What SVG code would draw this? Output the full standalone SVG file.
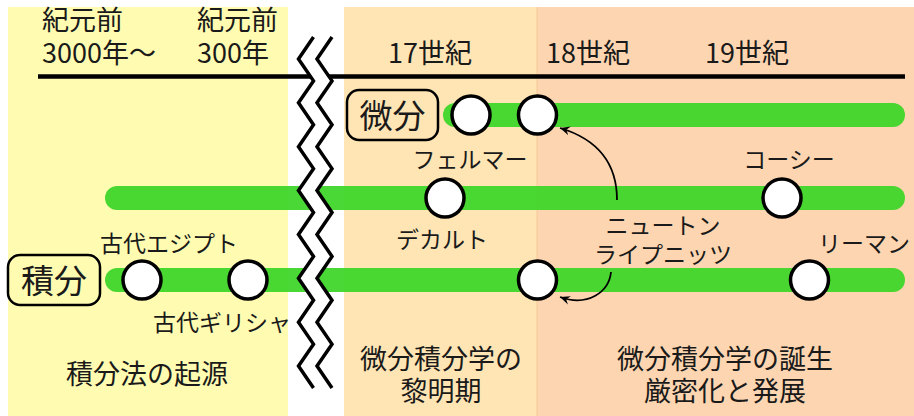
<svg xmlns="http://www.w3.org/2000/svg" width="914" height="416" viewBox="0 0 914 416">
<style>
text{font-family:"Noto Sans CJK JP","Noto Sans",sans-serif;fill:#1a1a1a}
.t{font-size:27px}
.n{font-size:23px}
.b{font-size:33px}
.m{text-anchor:middle}
.bar{stroke:#3fd62a;stroke-opacity:0.95;stroke-width:24;stroke-linecap:round}
.node{fill:#fff;stroke:#000;stroke-width:3.5}
.zz{fill:none;stroke:#000;stroke-width:3.5;stroke-linejoin:miter}
.arr{fill:none;stroke:#000;stroke-width:1.8}
.box{fill:none;stroke:#000;stroke-width:2.5}
</style>
<defs>
<marker id="ah" viewBox="-10 -6 12 12" refX="0" refY="0" markerWidth="12" markerHeight="12" markerUnits="userSpaceOnUse" orient="auto">
<path d="M0,0 L-10,-4.5 L-6.5,0 L-10,4.5 Z" fill="#000"/>
</marker>
</defs>
<g id="background">
<rect x="8" y="7" width="280" height="409" fill="#FFFCB2"/>
<rect x="344" y="7" width="193" height="409" fill="#FFE5B4"/>
<rect x="537" y="7" width="377" height="409" fill="#FDD6B1"/>
<line x1="537" y1="7" x2="537" y2="416" stroke="#F7C898" stroke-width="1"/>
</g>
<g id="timeline">
<line x1="38" y1="76.5" x2="905" y2="76.5" stroke="#000" stroke-width="4.5"/>
<text class="t" x="42" y="30">紀元前</text>
<text class="t" x="42" y="63">3000年～</text>
<text class="t" x="197" y="30">紀元前</text>
<text class="t" x="197" y="63">300年</text>
<text class="t" x="388" y="63">17世紀</text>
<text class="t" x="546" y="63">18世紀</text>
<text class="t" x="705" y="63">19世紀</text>
</g>
<g id="bars">
<line class="bar" x1="455" y1="115" x2="893" y2="115"/>
<line class="bar" x1="117" y1="198" x2="893" y2="198"/>
<line class="bar" x1="117" y1="280" x2="893" y2="280"/>
</g>
<g id="break">
<polygon fill="#fff" points="313.5,37 298.5,58.94 313.5,80.88 298.5,102.81 313.5,124.75 298.5,146.69 313.5,168.63 298.5,190.56 313.5,212.5 298.5,234.44 313.5,256.38 298.5,278.31 313.5,300.25 298.5,322.19 313.5,344.13 298.5,366.06 313.5,388 332,388 317,366.06 332,344.13 317,322.19 332,300.25 317,278.31 332,256.38 317,234.44 332,212.5 317,190.56 332,168.63 317,146.69 332,124.75 317,102.81 332,80.88 317,58.94 332,37"/>
<polyline class="zz" points="313.5,37 298.5,58.94 313.5,80.88 298.5,102.81 313.5,124.75 298.5,146.69 313.5,168.63 298.5,190.56 313.5,212.5 298.5,234.44 313.5,256.38 298.5,278.31 313.5,300.25 298.5,322.19 313.5,344.13 298.5,366.06 313.5,388"/>
<polyline class="zz" points="332,37 317,58.94 332,80.88 317,102.81 332,124.75 317,146.69 332,168.63 317,190.56 332,212.5 317,234.44 332,256.38 317,278.31 332,300.25 317,322.19 332,344.13 317,366.06 332,388"/>
</g>
<g id="label-bibun">
<rect class="box" x="347" y="90" width="91" height="50" rx="12"/>
<text class="b m" x="392.5" y="128">微分</text>
</g>
<g id="label-sekibun">
<rect class="box" x="8" y="255" width="92" height="50" rx="12"/>
<text class="b m" x="54" y="293">積分</text>
</g>
<g id="connectors">
<path class="arr" d="M617,200 C617,165 600,140 560,128" marker-end="url(#ah)"/>
<path class="arr" d="M611,272 C609,292 588,307 560,297" marker-end="url(#ah)"/>
</g>
<g id="node-fermat"><circle class="node" cx="471" cy="115" r="19"/><text class="n m" x="470" y="168">フェルマー</text></g>
<g id="node-newton-leibniz-d"><circle class="node" cx="537.5" cy="115" r="19"/></g>
<g id="node-descartes"><circle class="node" cx="445" cy="198" r="19"/><text class="n m" x="442" y="248">デカルト</text></g>
<g id="node-cauchy"><circle class="node" cx="782" cy="198" r="19"/><text class="n m" x="789" y="168">コーシー</text></g>
<g id="node-egypt"><circle class="node" cx="142" cy="280" r="19"/><text class="n" x="100" y="252">古代エジプト</text></g>
<g id="node-greece"><circle class="node" cx="248" cy="280" r="19"/><text class="n" x="153" y="331">古代ギリシャ</text></g>
<g id="node-newton-leibniz-i"><circle class="node" cx="537.5" cy="280" r="19"/></g>
<g id="node-riemann"><circle class="node" cx="809.5" cy="280" r="19"/><text class="n" x="818" y="252">リーマン</text></g>
<g id="newton-label"><text class="n m" x="663" y="234">ニュートン</text><text class="n m" x="663" y="263">ライプニッツ</text></g>
<g id="periods">
<text class="t m" x="147" y="384">積分法の起源</text>
<text class="t m" x="441" y="369">微分積分学の</text>
<text class="t m" x="441" y="401">黎明期</text>
<text class="t m" x="725" y="369">微分積分学の誕生</text>
<text class="t m" x="725" y="401">厳密化と発展</text>
</g>
</svg>
